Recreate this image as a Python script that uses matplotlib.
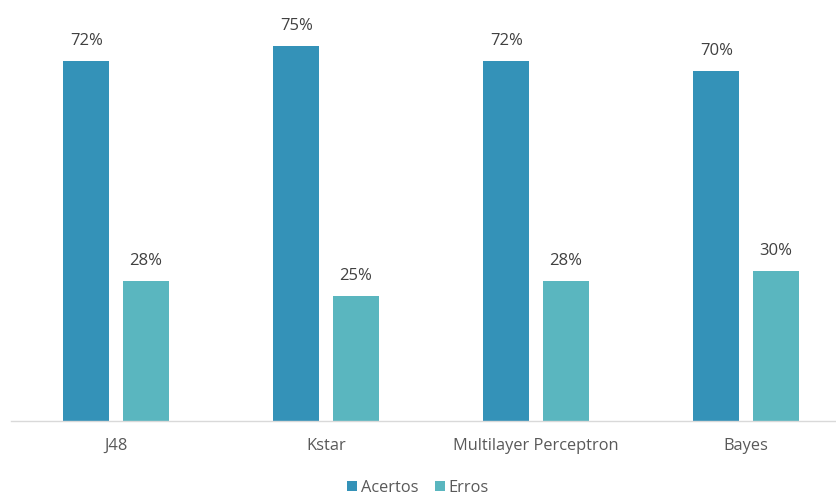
import numpy as np
import matplotlib
matplotlib.use('Agg')
import matplotlib.pyplot as plt

categorias = ['J48', 'Kstar', 'Multilayer Perceptron', 'Bayes']
acertos = [72, 75, 72, 70]
erros = [28, 25, 28, 30]

COR_ACERTOS = '#3492B8'
COR_ERROS = '#5AB6BF'

plt.rcParams['font.family'] = ['Open Sans', 'DejaVu Sans']

fig = plt.figure(figsize=(8.36, 4.95), dpi=100)
# axes placed so that each category gets 210 px and 1% = 5 px
ax = fig.add_axes([11 / 836, 74 / 495, 840 / 836, 400 / 495])

x = np.arange(len(categorias))
w = 0.22
off = 0.141
b1 = ax.bar(x - off, acertos, w, color=COR_ACERTOS, label='Acertos')
b2 = ax.bar(x + off, erros, w, color=COR_ERROS, label='Erros')

for bars, vals in ((b1, acertos), (b2, erros)):
    for b, v in zip(bars, vals):
        ax.text(b.get_x() + b.get_width() / 2, v + 2.4, f'{v}%',
                ha='center', va='bottom', fontsize=12, color='#404040')

ax.set_xlim(-0.5, 3.5)
ax.set_ylim(0, 80)
ax.set_xticks(x)
ax.set_xticklabels(categorias, fontsize=11.8, color='#595959')
ax.tick_params(axis='x', length=0, pad=12)
ax.set_yticks([])
for s in ('top', 'right', 'left'):
    ax.spines[s].set_visible(False)
ax.spines['bottom'].set_color('#D9D9D9')
ax.spines['bottom'].set_linewidth(1)

fig.legend(handles=[b1, b2], loc='center', bbox_to_anchor=(418 / 836, 1 - 488 / 495),
           ncol=2, frameon=False, fontsize=11.8, handlelength=0.6, handleheight=0.6,
           handletextpad=0.25, columnspacing=1.0, labelcolor='#595959')

fig.savefig('out.png', dpi=100)
